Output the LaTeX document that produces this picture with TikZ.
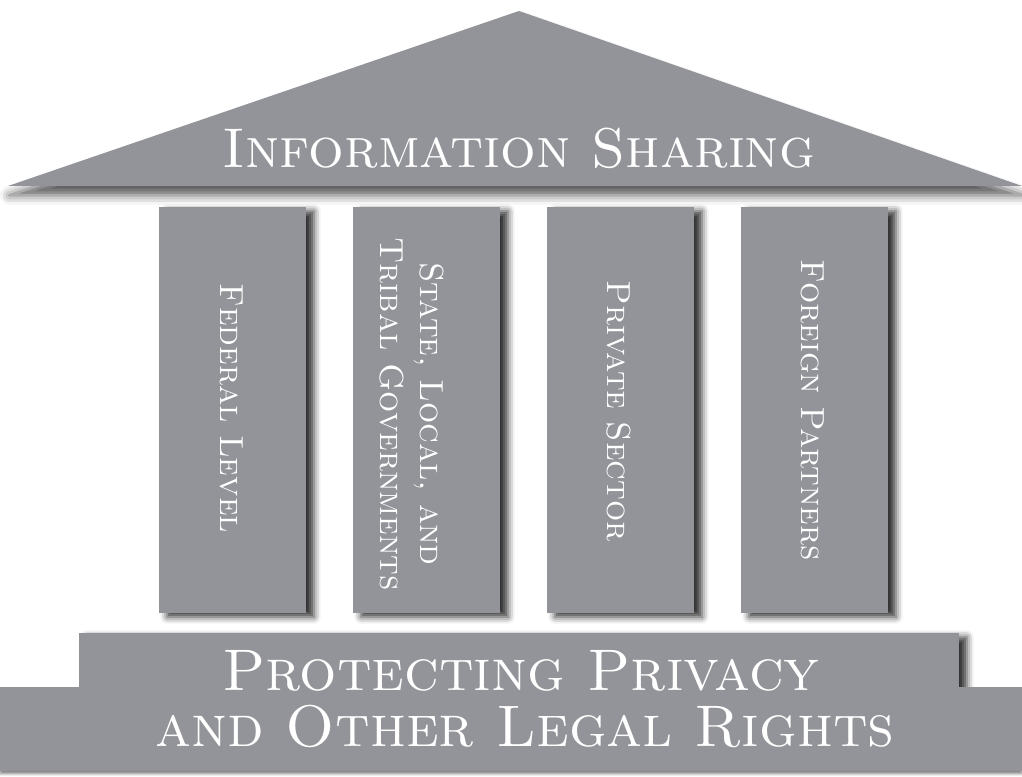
\documentclass[tikz,border=0pt]{standalone}
\usepackage{fontspec}
\usepackage{tikz}
\usetikzlibrary{shadows.blur}

\definecolor{stonegray}{RGB}{147,148,153}

\begin{document}
\begin{tikzpicture}[x=0.75pt,y=0.75pt,yscale=-1,xscale=1,
  stone/.style={fill=stonegray, draw=none},
  stoneshadow/.style={blur shadow={shadow xshift=6pt, shadow yshift=-3pt, shadow blur radius=5pt, shadow opacity=80}},
  roofshadow/.style={blur shadow={shadow xshift=1pt, shadow yshift=-7pt, shadow blur radius=7pt, shadow opacity=65}},
  pillarlabel/.style={text=white, rotate=-90, inner sep=0pt, align=center,
    font=\fontsize{25}{30}\selectfont\scshape\addfontfeatures{LetterSpace=5}},
  biglabel/.style={text=white, anchor=base, inner sep=0pt}]
\useasboundingbox (0,0) rectangle (1022,777);

%Shape: Roof [id:roof]
\fill [stone, roofshadow] (8,186) -- (519,11) -- (1022,186) -- cycle ;

%Shape: Rectangle [id:pillars]
\foreach \px in {159,353,547,741}
  \fill [stone, stoneshadow] (\px,207) rectangle ++(147,406) ;

%Shape: Upper step [id:stepupper]
\fill [stone, stoneshadow] (79,633) rectangle (959,700) ;
%Shape: Lower step [id:steplower]
\fill [stone, blur shadow={shadow xshift=0pt, shadow yshift=-2pt, shadow blur radius=2pt, shadow opacity=50}] (0,687) rectangle (1022,771) ;

% Text Node
\draw (519,168) node (sharing) [biglabel, font=\fontsize{42}{46}\selectfont\scshape\addfontfeatures{LetterSpace=6}] {Information Sharing};
% Text Node
\draw (232,408) node (federal) [pillarlabel] {Federal Level};
% Text Node
\draw (412,414) node (statelocal) [pillarlabel] {State, Local, and\\Tribal Governments};
% Text Node
\draw (619,411) node (private) [pillarlabel] {Private Sector};
% Text Node
\draw (813,410) node (foreign) [pillarlabel] {Foreign Partners};
% Text Node
\draw (521,690) node (privacy) [biglabel, font=\fontsize{44}{50}\selectfont\scshape\addfontfeatures{LetterSpace=4}] {Protecting Privacy};
% Text Node
\draw (525,746) node (rights) [biglabel, font=\fontsize{44}{50}\selectfont\scshape\addfontfeatures{LetterSpace=4}] {and Other Legal Rights};

\end{tikzpicture}
\end{document}
